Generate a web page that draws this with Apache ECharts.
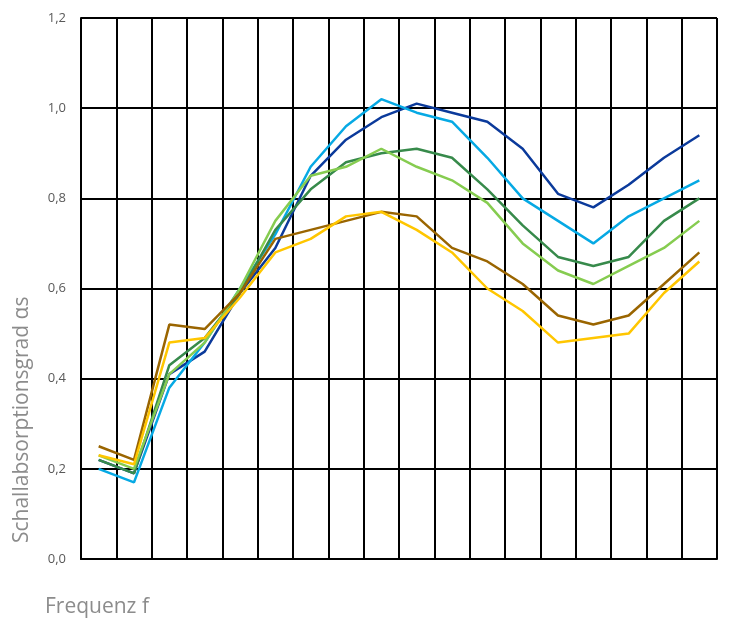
<!DOCTYPE html>
<html>
<head>
<meta charset="utf-8">
<script src="https://cdn.jsdelivr.net/npm/echarts@6/dist/echarts.min.js"></script>
<style>
  html, body { margin: 0; padding: 0; background: #fff; }
  #chart { width: 729px; height: 621px; }
</style>
</head>
<body>
<div id="chart"></div>
<script>
// Third-octave band centre frequencies in Hz (labels not shown on the axis)
const frequencies = ['100','125','160','200','250','315','400','500','630','800','1000','1250','1600','2000','2500','3150','4000','5000'];

// Sound absorption coefficient per band, one array per material sample
const darkBlue   = [0.22, 0.19, 0.41, 0.46, 0.59, 0.69, 0.85, 0.93, 0.98, 1.01, 0.99, 0.97, 0.91, 0.81, 0.78, 0.83, 0.89, 0.94];
const lightBlue  = [0.20, 0.17, 0.38, 0.48, 0.60, 0.72, 0.87, 0.96, 1.02, 0.99, 0.97, 0.89, 0.80, 0.75, 0.70, 0.76, 0.80, 0.84];
const darkGreen  = [0.22, 0.19, 0.43, 0.49, 0.59, 0.73, 0.82, 0.88, 0.90, 0.91, 0.89, 0.82, 0.74, 0.67, 0.65, 0.67, 0.75, 0.80];
const lightGreen = [0.23, 0.20, 0.41, 0.48, 0.60, 0.75, 0.85, 0.87, 0.91, 0.87, 0.84, 0.79, 0.70, 0.64, 0.61, 0.65, 0.69, 0.75];
const brown      = [0.25, 0.22, 0.52, 0.51, 0.59, 0.71, 0.73, 0.75, 0.77, 0.76, 0.69, 0.66, 0.61, 0.54, 0.52, 0.54, 0.61, 0.68];
const yellow     = [0.23, 0.21, 0.48, 0.49, 0.58, 0.68, 0.71, 0.76, 0.77, 0.73, 0.68, 0.60, 0.55, 0.48, 0.49, 0.50, 0.59, 0.66];

const seriesDefs = [
  { data: darkBlue,   color: '#0b3a9b' },
  { data: lightBlue,  color: '#06a9e4' },
  { data: darkGreen,  color: '#378a4b' },
  { data: lightGreen, color: '#86cc50' },
  { data: brown,      color: '#9a6500' },
  { data: yellow,     color: '#ffc600' }
];

const gridColor = '#000000';
const fontFamily = '"Open Sans", "Noto Sans", sans-serif';

const chart = echarts.init(document.getElementById('chart'), null, { renderer: 'canvas' });

chart.setOption({
  animation: false,
  backgroundColor: '#ffffff',
  grid: { left: 81, right: 12, top: 18, bottom: 62, containLabel: false },
  xAxis: {
    type: 'category',
    data: frequencies,
    boundaryGap: true,
    axisLine: { show: true, lineStyle: { color: gridColor, width: 2 } },
    axisTick: { show: false },
    axisLabel: { show: false },
    splitLine: { show: true, lineStyle: { color: gridColor, width: 2 } }
  },
  yAxis: {
    type: 'value',
    min: 0,
    max: 1.2,
    interval: 0.2,
    axisLine: { show: true, lineStyle: { color: gridColor, width: 2 } },
    axisTick: { show: false },
    axisLabel: {
      color: '#595959',
      fontSize: 13,
      fontFamily: fontFamily,
      margin: 15,
      formatter: v => v.toFixed(1).replace('.', ',')
    },
    splitLine: { show: true, lineStyle: { color: gridColor, width: 2 } }
  },
  series: seriesDefs.map(s => ({
    type: 'line',
    data: s.data,
    symbol: 'none',
    smooth: false,
    lineStyle: { color: s.color, width: 2.5 },
    itemStyle: { color: s.color }
  })),
  graphic: [
    {
      type: 'text',
      x: 22,
      y: 543,
      rotation: Math.PI / 2,
      style: {
        text: 'Schallabsorptionsgrad αs',
        fill: '#8c8c8c',
        fontSize: 21,
        fontFamily: fontFamily,
        textAlign: 'left',
        textVerticalAlign: 'middle'
      }
    },
    {
      type: 'text',
      x: 45,
      y: 607,
      style: {
        text: 'Frequenz f',
        fill: '#8c8c8c',
        fontSize: 21,
        fontFamily: fontFamily,
        textAlign: 'left',
        textVerticalAlign: 'middle'
      }
    }
  ]
});
</script>
</body>
</html>
